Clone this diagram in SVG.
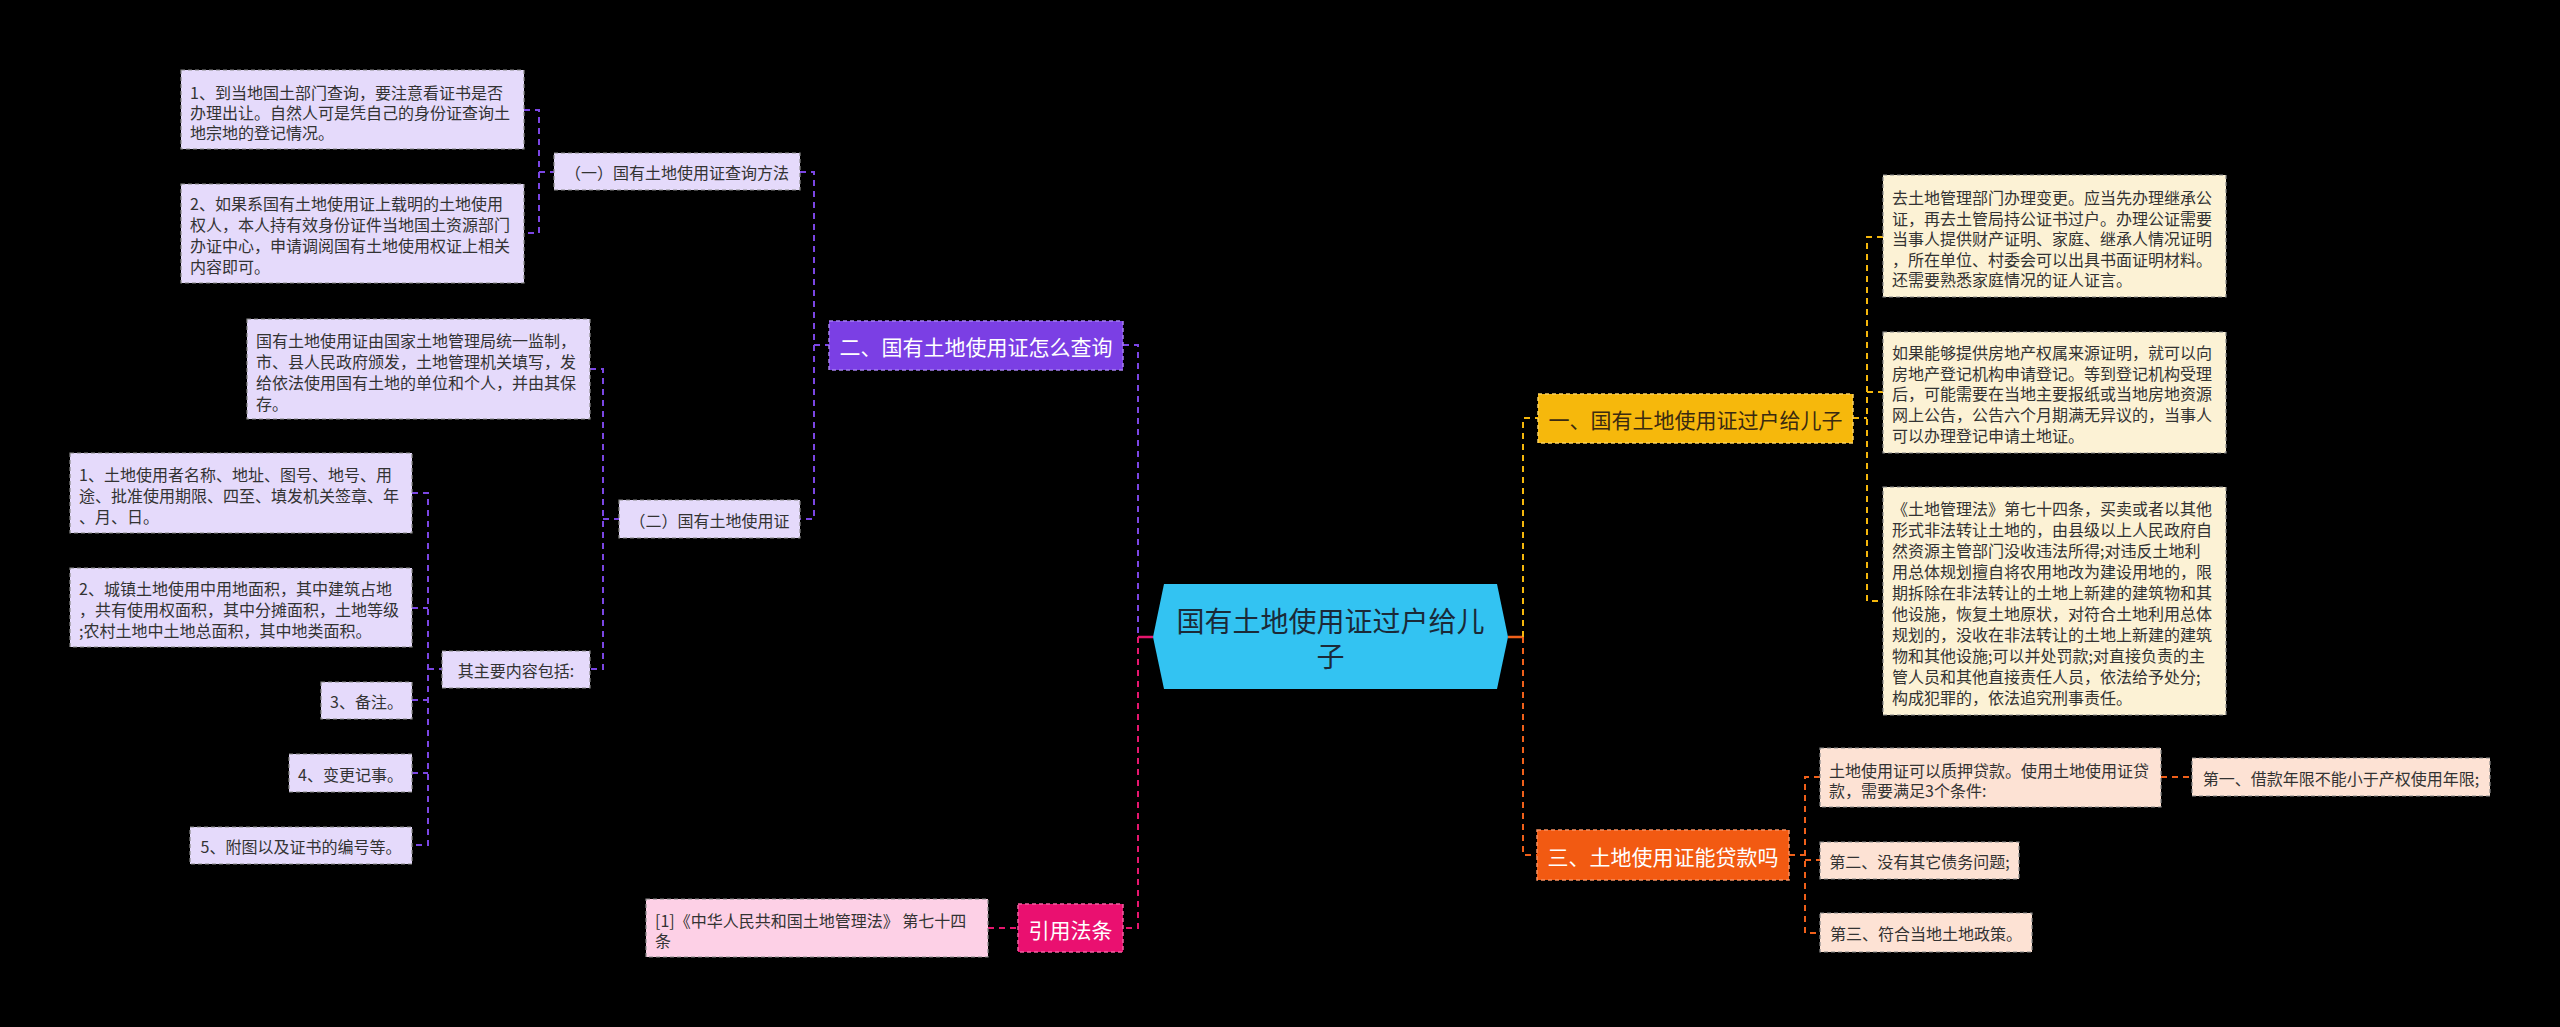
<svg xmlns="http://www.w3.org/2000/svg" width="2560" height="1027" viewBox="0 0 2560 1027">
<style>
text{font-family:"Noto Sans CJK SC","Noto Sans",sans-serif;dominant-baseline:central}
.t{font-size:16px;fill:#333}
.b{font-size:21px}
.c{stroke-width:2;fill:none;stroke-dasharray:6 5}
.pu{stroke:#7b46e4}.ye{stroke:#f5b70c}.or{stroke:#f0601a}.pk{stroke:#e6166e}
.lp{fill:#e5dafb}.ly{fill:#fcf2d5}.lo{fill:#fde2d4}.lk{fill:#fdd0e6}
.lf{stroke:#8a8a8a;stroke-width:1.2;stroke-dasharray:4 3}
.bf{stroke-width:1.5;stroke-dasharray:4 3}
</style>
<rect width="2560" height="1027" fill="#000"/>
<g id="connectors">
<path class="c pu" d="M524,110H539V233H524M539,172H554"/>
<path class="c pu" d="M590,369H603V669H590M603,519H619"/>
<path class="c pu" d="M412,493H428V845H412M412,608H428M412,700H428M412,773H428M428,669H442"/>
<path class="c pu" d="M800,172H814V519H800M814,345H829"/>
<path class="c pu" d="M1123,345H1138V637"/>
<path class="c pk" d="M1138,637V928H1123M988,928H1018"/>
<path d="M1138,637H1153" stroke="#e6166e" stroke-width="2.5" fill="none"/>
<path d="M1508,637H1523" stroke="#f0601a" stroke-width="2.5" fill="none"/>
<path class="c ye" d="M1523,637V418H1538M1853,418H1867M1883,237H1867V601H1883M1867,392H1883"/>
<path class="c or" d="M1523,637V855H1537M1789,855H1805M1820,777H1805V933H1820M1805,860H1820M2161,777H2192"/>
</g>
<g id="center">
<polygon points="1153,637 1164,584 1497,584 1508,637 1497,689 1164,689" fill="#33c3f2"/>
<text x="1330.5" y="620" font-size="28" fill="#1b2a38" text-anchor="middle">国有土地使用证过户给儿</text>
<text x="1330.5" y="655" font-size="28" fill="#1b2a38" text-anchor="middle">子</text>
</g>
<g id="b2">
<rect x="829" y="321" width="294" height="49" fill="#7b3fe4" class="bf" stroke="#a580f0"/>
<text class="b" x="976" y="346" fill="#fff" text-anchor="middle">二、国有土地使用证怎么查询</text>
</g>
<g id="s1">
<rect class="lp lf" x="554" y="153" width="246" height="37"/>
<text class="t" x="677" y="172" text-anchor="middle">（一）国有土地使用证查询方法</text>
</g>
<g id="l1">
<rect class="lp lf" x="181" y="70" width="343" height="79"/>
<text class="t" x="190" y="92">1、到当地国土部门查询，要注意看证书是否</text>
<text class="t" x="190" y="112">办理出让。自然人可是凭自己的身份证查询土</text>
<text class="t" x="190" y="132">地宗地的登记情况。</text>
</g>
<g id="l2">
<rect class="lp lf" x="181" y="184" width="343" height="99"/>
<text class="t" x="190" y="203">2、如果系国有土地使用证上载明的土地使用</text>
<text class="t" x="190" y="224">权人，本人持有效身份证件当地国土资源部门</text>
<text class="t" x="190" y="245">办证中心，申请调阅国有土地使用权证上相关</text>
<text class="t" x="190" y="266">内容即可。</text>
</g>
<g id="s2">
<rect class="lp lf" x="619" y="500" width="181" height="38"/>
<text class="t" x="709.5" y="520" text-anchor="middle">（二）国有土地使用证</text>
</g>
<g id="l3">
<rect class="lp lf" x="247" y="319" width="343" height="100"/>
<text class="t" x="256" y="340">国有土地使用证由国家土地管理局统一监制，</text>
<text class="t" x="256" y="361">市、县人民政府颁发，土地管理机关填写，发</text>
<text class="t" x="256" y="382">给依法使用国有土地的单位和个人，并由其保</text>
<text class="t" x="256" y="403">存。</text>
</g>
<g id="s3">
<rect class="lp lf" x="442" y="651" width="148" height="37"/>
<text class="t" x="516" y="670" text-anchor="middle">其主要内容包括:</text>
</g>
<g id="l4">
<rect class="lp lf" x="70" y="453" width="342" height="80"/>
<text class="t" x="79" y="474">1、土地使用者名称、地址、图号、地号、用</text>
<text class="t" x="79" y="495">途、批准使用期限、四至、填发机关签章、年</text>
<text class="t" x="79" y="516">、月、日。</text>
</g>
<g id="l5">
<rect class="lp lf" x="70" y="568" width="342" height="79"/>
<text class="t" x="79" y="588">2、城镇土地使用中用地面积，其中建筑占地</text>
<text class="t" x="79" y="609">，共有使用权面积，其中分摊面积，土地等级</text>
<text class="t" x="79" y="630">;农村土地中土地总面积，其中地类面积。</text>
</g>
<g id="l6">
<rect class="lp lf" x="321" y="682" width="91" height="37"/>
<text class="t" x="366.5" y="701" text-anchor="middle">3、备注。</text>
</g>
<g id="l7">
<rect class="lp lf" x="289" y="754" width="123" height="38"/>
<text class="t" x="350.5" y="774" text-anchor="middle">4、变更记事。</text>
</g>
<g id="l8">
<rect class="lp lf" x="190" y="827" width="222" height="37"/>
<text class="t" x="301" y="846" text-anchor="middle">5、附图以及证书的编号等。</text>
</g>
<g id="b4">
<rect x="1018" y="904" width="105" height="48" fill="#ea1070" class="bf" stroke="#f060a0"/>
<text class="b" x="1070.5" y="929" fill="#fff" text-anchor="middle">引用法条</text>
</g>
<g id="p1">
<rect class="lk lf" x="646" y="899" width="342" height="58"/>
<text class="t" x="655" y="920">[1]《中华人民共和国土地管理法》 第七十四</text>
<text class="t" x="655" y="940">条</text>
</g>
<g id="b1">
<rect x="1538" y="394" width="315" height="49" fill="#f6b80c" class="bf" stroke="#f9d060"/>
<text class="b" x="1695.5" y="419" fill="#3a2a10" text-anchor="middle">一、国有土地使用证过户给儿子</text>
</g>
<g id="r1">
<rect class="ly lf" x="1883" y="175" width="343" height="122"/>
<text class="t" x="1892" y="197">去土地管理部门办理变更。应当先办理继承公</text>
<text class="t" x="1892" y="217.5">证，再去土管局持公证书过户。办理公证需要</text>
<text class="t" x="1892" y="238">当事人提供财产证明、家庭、继承人情况证明</text>
<text class="t" x="1892" y="258.5">，所在单位、村委会可以出具书面证明材料。</text>
<text class="t" x="1892" y="279">还需要熟悉家庭情况的证人证言。</text>
</g>
<g id="r2">
<rect class="ly lf" x="1883" y="332" width="343" height="121"/>
<text class="t" x="1892" y="352">如果能够提供房地产权属来源证明，就可以向</text>
<text class="t" x="1892" y="373">房地产登记机构申请登记。等到登记机构受理</text>
<text class="t" x="1892" y="393">后，可能需要在当地主要报纸或当地房地资源</text>
<text class="t" x="1892" y="414">网上公告，公告六个月期满无异议的，当事人</text>
<text class="t" x="1892" y="435">可以办理登记申请土地证。</text>
</g>
<g id="r3">
<rect class="ly lf" x="1883" y="487" width="343" height="228"/>
<text class="t" x="1892" y="508">《土地管理法》第七十四条，买卖或者以其他</text>
<text class="t" x="1892" y="529">形式非法转让土地的，由县级以上人民政府自</text>
<text class="t" x="1892" y="550">然资源主管部门没收违法所得;对违反土地利</text>
<text class="t" x="1892" y="571">用总体规划擅自将农用地改为建设用地的，限</text>
<text class="t" x="1892" y="592">期拆除在非法转让的土地上新建的建筑物和其</text>
<text class="t" x="1892" y="613">他设施，恢复土地原状，对符合土地利用总体</text>
<text class="t" x="1892" y="634">规划的，没收在非法转让的土地上新建的建筑</text>
<text class="t" x="1892" y="655">物和其他设施;可以并处罚款;对直接负责的主</text>
<text class="t" x="1892" y="676">管人员和其他直接责任人员，依法给予处分;</text>
<text class="t" x="1892" y="697">构成犯罪的，依法追究刑事责任。</text>
</g>
<g id="b3">
<rect x="1537" y="830" width="252" height="50" fill="#f25a12" class="bf" stroke="#f79060"/>
<text class="b" x="1663" y="856" fill="#fff" text-anchor="middle">三、土地使用证能贷款吗</text>
</g>
<g id="o1">
<rect class="lo lf" x="1820" y="748" width="341" height="59"/>
<text class="t" x="1829" y="770">土地使用证可以质押贷款。使用土地使用证贷</text>
<text class="t" x="1829" y="790">款，需要满足3个条件:</text>
</g>
<g id="o2">
<rect class="lo lf" x="2192" y="758" width="298" height="38"/>
<text class="t" x="2341" y="778" text-anchor="middle">第一、借款年限不能小于产权使用年限;</text>
</g>
<g id="o3">
<rect class="lo lf" x="1820" y="842" width="199" height="37"/>
<text class="t" x="1919.5" y="861" text-anchor="middle">第二、没有其它债务问题;</text>
</g>
<g id="o4">
<rect class="lo lf" x="1820" y="913" width="212" height="39"/>
<text class="t" x="1926" y="933" text-anchor="middle">第三、符合当地土地政策。</text>
</g>
</svg>
